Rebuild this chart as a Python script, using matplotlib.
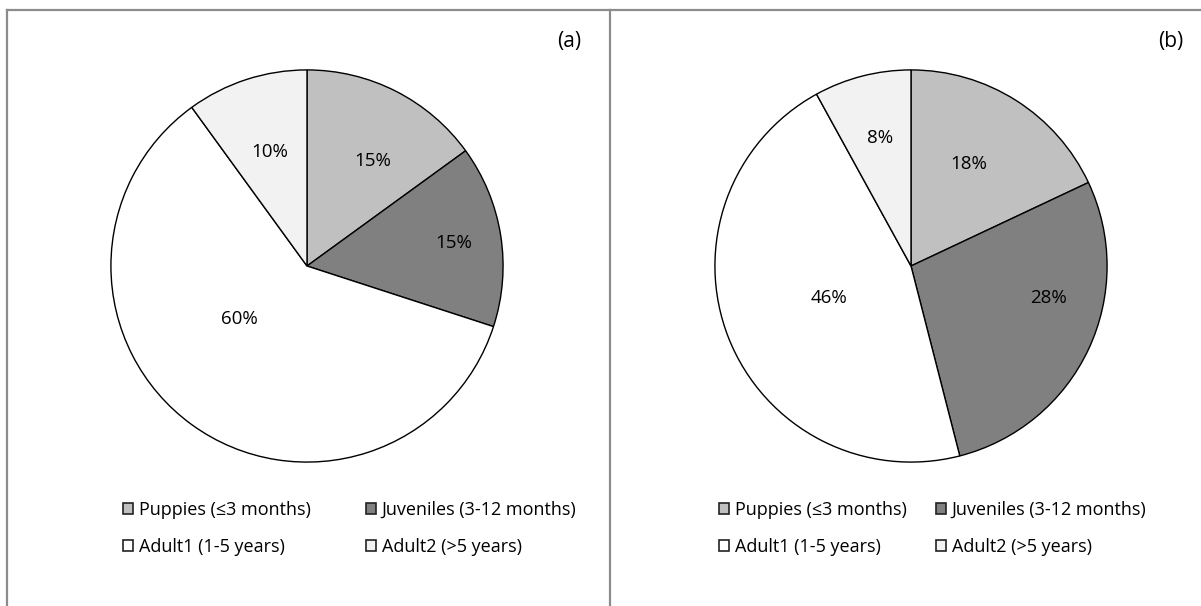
import numpy as np
import matplotlib.pyplot as plt
from matplotlib.patches import Patch
from matplotlib.lines import Line2D

plt.rcParams['font.family'] = ['Open Sans', 'DejaVu Sans']

categories = ['Puppies (\u22643 months)', 'Juveniles (3-12 months)',
              'Adult1 (1-5 years)', 'Adult2 (>5 years)']
colors = ['#c0c0c0', '#808080', '#ffffff', '#f2f2f2']

vals_a = [15, 15, 60, 10]
vals_b = [18, 28, 46, 8]

# label radius (fraction of pie radius) and angle nudge for each slice
lab_r_a = [0.63, 0.76, 0.44, 0.61]
lab_da_a = [-5, 0, -16, 0]
lab_r_b = [0.60, 0.72, 0.45, 0.67]
lab_da_b = [3, 12, 0, -1]

W, H = 1201, 606
fig = plt.figure(figsize=(W / 100, H / 100), dpi=100)


def px_axes(cx, cy, r):
    # square axes around a pie centre given in pixels (y from top)
    return fig.add_axes([(cx - r) / W, (H - cy - r) / H, 2 * r / W, 2 * r / H])


def draw_pie(ax, vals, lab_r, lab_da):
    wedges, _ = ax.pie(vals, colors=colors, startangle=90, counterclock=False,
                       radius=1, wedgeprops=dict(edgecolor='black', linewidth=1.0))
    total = float(sum(vals))
    for w, v, r, da in zip(wedges, vals, lab_r, lab_da):
        mid = np.deg2rad((w.theta1 + w.theta2) / 2 + da)
        ax.text(r * np.cos(mid), r * np.sin(mid), '%d%%' % round(100 * v / total),
                ha='center', va='center', fontsize=13.5, color='black')
    ax.set_xlim(-1.02, 1.02)
    ax.set_ylim(-1.02, 1.02)
    ax.axis('off')


ax1 = px_axes(307, 266, 200)
draw_pie(ax1, vals_a, lab_r_a, lab_da_a)
ax2 = px_axes(911, 266, 200)
draw_pie(ax2, vals_b, lab_r_b, lab_da_b)

# legend fills column by column, so reorder to read row by row
order = [0, 2, 1, 3]
handles = [Patch(facecolor=colors[i], edgecolor='#222222', linewidth=1.2) for i in order]
labels = [categories[i] for i in order]
for x0, cs in [(116, 3.1), (712, 1.65)]:
    fig.legend(handles, labels, ncol=2, frameon=False, fontsize=13,
               loc='upper left', bbox_to_anchor=(x0 / W, 1 - 494 / H),
               handlelength=0.55, handleheight=0.55, handletextpad=0.3,
               columnspacing=cs, labelspacing=1.05, borderaxespad=0)

fig.text(569 / W, 1 - 42 / H, '(a)', fontsize=15, ha='center', va='center')
fig.text(1171 / W, 1 - 42 / H, '(b)', fontsize=15, ha='center', va='center')

# panel frames
gray = '#8c8c8c'
fig.add_artist(Line2D([7 / W, 1], [1 - 10 / H, 1 - 10 / H], color=gray, lw=1.6))
fig.add_artist(Line2D([7 / W, 7 / W], [0, 1 - 10 / H], color=gray, lw=1.6))
fig.add_artist(Line2D([610 / W, 610 / W], [0, 1 - 10 / H], color=gray, lw=1.6))

plt.savefig('out.png', dpi=100)
